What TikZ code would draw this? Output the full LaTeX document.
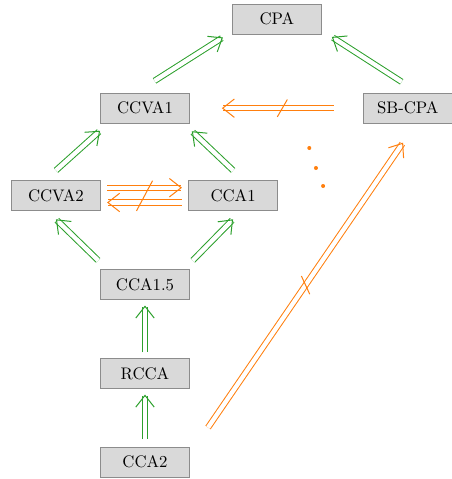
\documentclass[tikz,border=0pt]{standalone}
\usepackage{tikz}
\usetikzlibrary{arrows.meta, positioning, calc}

\definecolor{implgreen}{RGB}{44,160,44}
\definecolor{nimplorange}{RGB}{255,127,14}

\begin{document}
\begin{tikzpicture}[
    % Notion box
    box/.style={
        rectangle, draw=gray!90, fill=gray!30, line width=0.5pt,
        minimum width=1.87cm, minimum height=0.63cm, inner sep=2pt
    },
    % Implication (double arrow)
    impl/.style={
        draw=implgreen, double, line width=0.6pt, double distance=2.6pt,
        -{Straight Barb[length=7pt, width=11pt]}
    },
    % Non-implication (double arrow, struck through)
    nimpl/.style={
        draw=nimplorange, double, line width=0.6pt, double distance=2.6pt,
        -{Straight Barb[length=7pt, width=11pt]}
    },
    slash/.style={draw=nimplorange, line width=0.6pt},
    dot/.style={circle, fill=nimplorange, inner sep=0pt, minimum size=2.4pt}
]
    \useasboundingbox (-3.045,-0.357) rectangle (6.447,9.702);

    % =========================================================================
    % Notions
    % =========================================================================
    \node[box] (cpa)    at (2.77, 9.30)  {CPA};
    \node[box] (ccva1)  at (0, 7.43)     {CCVA1};
    \node[box] (sbcpa)  at (5.52, 7.43)  {SB-CPA};
    \node[box] (ccva2)  at (-1.87, 5.59) {CCVA2};
    \node[box] (cca1)   at (1.85, 5.59)  {CCA1};
    \node[box] (cca15)  at (0, 3.72)     {CCA1.5};
    \node[box] (rcca)   at (0, 1.85)     {RCCA};
    \node[box] (cca2)   at (0, 0)        {CCA2};

    % =========================================================================
    % Implications
    % =========================================================================
    \draw[impl] ([xshift=0.2cm, yshift=0.25cm]ccva1.north) -- ([xshift=-0.19cm, yshift=-0.06cm]cpa.south west);
    \draw[impl] ([xshift=-0.13cm, yshift=0.23cm]sbcpa.north) -- ([xshift=0.21cm, yshift=-0.05cm]cpa.south east);

    \draw[impl] ([yshift=0.21cm]ccva2.north) -- ([yshift=-0.15cm]ccva1.south west);
    \draw[impl] ([yshift=0.21cm]cca1.north) -- ([xshift=0.04cm, yshift=-0.16cm]ccva1.south east);

    \draw[impl] ([xshift=-0.04cm, yshift=0.19cm]cca15.north west) -- ([yshift=-0.17cm]ccva2.south);
    \draw[impl] ([xshift=0.06cm, yshift=0.19cm]cca15.north east) -- ([yshift=-0.17cm]cca1.south);

    \draw[impl] ([yshift=0.13cm]rcca.north) -- ([yshift=-0.11cm]cca15.south);
    \draw[impl] ([yshift=0.15cm]cca2.north) -- ([yshift=-0.11cm]rcca.south);

    % =========================================================================
    % Non-implications
    % =========================================================================
    \draw[nimpl] ([xshift=-0.61cm]sbcpa.west) -- ([xshift=0.67cm]ccva1.east)
        coordinate[pos=0.46] (s1);
    \draw[slash] ($(s1)!0.21cm!60:(ccva1.east)$) -- ($(s1)!0.21cm!240:(ccva1.east)$);

    \draw[nimpl] ([xshift=0.13cm, yshift=0.17cm]ccva2.east) -- ([xshift=-0.13cm, yshift=0.17cm]cca1.west);
    \draw[nimpl] ([xshift=-0.13cm, yshift=-0.14cm]cca1.west) -- ([xshift=0.13cm, yshift=-0.14cm]ccva2.east);
    \coordinate (s2) at ($(ccva2.east)!0.5!(cca1.west)$);
    \draw[slash] ($(s2)!0.36cm!62:(cca1.west)$) -- ($(s2)!0.36cm!242:(cca1.west)$);

    \draw[nimpl] ([xshift=0.38cm, yshift=0.4cm]cca2.north east) -- ([xshift=-0.1cm, yshift=-0.4cm]sbcpa.south)
        coordinate[midway] (s3);
    \draw[slash] ($(s3)!0.21cm!57:(sbcpa.south)$) -- ($(s3)!0.21cm!237:(sbcpa.south)$);

    % Dots
    \node[dot] (d1) at (3.45, 6.594) {};
    \node[dot] (d2) at (3.59, 6.174) {};
    \node[dot] (d3) at (3.74, 5.796) {};

\end{tikzpicture}
\end{document}
